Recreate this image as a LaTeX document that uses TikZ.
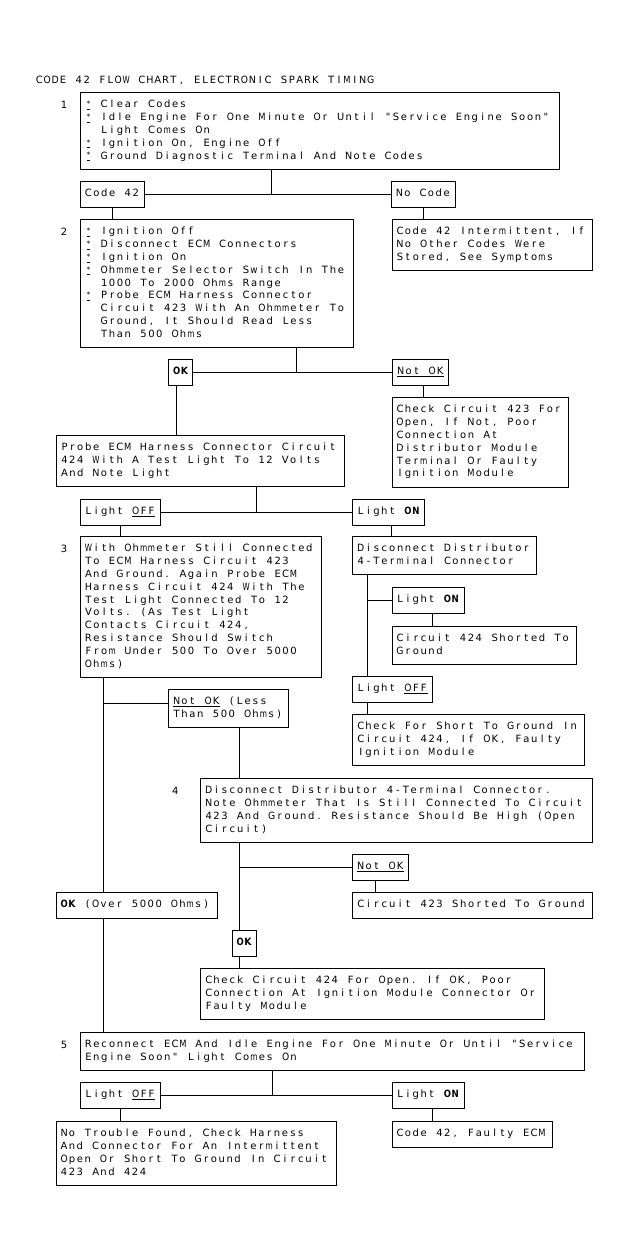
\documentclass[tikz,border=0pt]{standalone}
\usepackage{graphicx}
\usepackage{fontspec}
\setmonofont{DejaVu Sans}
\newlength\cw \setlength\cw{7.887pt}
\newcommand\bul{\makebox[\cw][c]{\underline{\raisebox{1.2pt}{\fontsize{7.5}{7.5}\selectfont *}}}\hspace*{\cw}}
\newcommand\ind{\hspace*{2\cw}}
\ExplSyntaxOn
\tl_new:N \l_mono_tl
\tl_new:N \l_mono_out_tl
\box_new:N \l_mono_box
\cs_new_protected:Npn \mono_glyph:n #1
  {
    \hbox_set:Nn \l_mono_box {#1}
    \dim_compare:nNnTF { \box_wd:N \l_mono_box } > { 7.2pt }
      { \makebox[\cw][c]{\resizebox{7.2pt}{\height}{#1}} }
      { \makebox[\cw][c]{#1} }
  }
\cs_new_protected:Npn \mono_item:n #1
  {
    \tl_if_single_token:nTF {#1}
      {
        \token_if_cs:NTF #1
          { \tl_put_right:Nn \l_mono_out_tl {#1} }
          { \tl_put_right:Nn \l_mono_out_tl { \mono_glyph:n {#1} } }
      }
      { \tl_put_right:Nn \l_mono_out_tl { { \tx {#1} } } }
  }
\NewDocumentCommand \tx { m }
  {
    \tl_set:Nn \l_mono_tl {#1}
    \tl_replace_all:Nnn \l_mono_tl { \\ ~ } { \\ }
    \tl_replace_all:Nnn \l_mono_tl { ~ } { \kern \cw }
    \tl_clear:N \l_mono_out_tl
    \tl_map_inline:Nn \l_mono_tl { \mono_item:n {##1} }
    \tl_use:N \l_mono_out_tl
  }
\ExplSyntaxOff
\begin{document}
\begin{tikzpicture}[x=1pt,y=-1pt,
  txt/.style={font=\ttfamily\fontsize{10}{12.8}\selectfont},
  box/.style={txt,draw,line width=1pt,anchor=north west,align=left,inner xsep=4pt,inner ysep=6.4pt,
    execute at begin node=\strut,execute at end node=\strut},
  lab/.style={txt,inner sep=0pt},
  every path/.style={line width=1pt}]
\fill[white] (0,0) rectangle (631,1260);
\useasboundingbox (0,0) rectangle (631,1260);

\node[txt,anchor=west,inner sep=0pt] (title) at (35,80) {\tx{CODE 42 FLOW CHART, ELECTRONIC SPARK TIMING}};

% step 1
\node[lab] (n1) at (64,104.5) {\tx{1}};
\node[box,text width=471pt] (b1) at (80,92) {\tx{\bul Clear Codes\\\bul Idle Engine For One Minute Or Until "Service Engine Soon"\\\ind Light Comes On\\\bul Ignition On, Engine Off\\\bul Ground Diagnostic Terminal And Note Codes}};
\node[box,text width=56pt] (c42) at (80,181) {\tx{Code 42}};
\node[box,text width=56pt] (nc) at (391,181) {\tx{No Code}};

% step 2
\node[lab] (n2) at (64,231.5) {\tx{2}};
\node[box,text width=265pt] (b2) at (80,219) {\tx{\bul Ignition Off\\\bul Disconnect ECM Connectors\\\bul Ignition On\\\bul Ohmmeter Selector Switch In The\\\ind 1000 To 2000 Ohms Range\\\bul Probe ECM Harness Connector\\\ind Circuit 423 With An Ohmmeter To\\\ind Ground, It Should Read Less\\\ind Than 500 Ohms}};
\node[box,text width=192.5pt] (ci) at (391.6,219) {\tx{Code 42 Intermittent, If\\No Other Codes Were\\Stored, See Symptoms}};

\node[box,text width=16pt] (ok1) at (168.2,359) {\tx{\textbf{OK}}};
\node[box,text width=48pt] (nok1) at (392.3,359) {\tx{\underline{Not OK}}};
\node[box,text width=168.3pt] (chk423) at (391.6,397) {\tx{Check Circuit 423 For\\Open, If Not, Poor\\Connection At\\Distributor Module\\Terminal Or Faulty\\Ignition Module}};
\node[box,text width=280pt] (probe) at (56.1,435) {\tx{Probe ECM Harness Connector Circuit\\424 With A Test Light To 12 Volts\\And Note Light}};

\node[box,text width=72.3pt] (loff1) at (80,499) {\tx{Light \underline{OFF}}};
\node[box,text width=64pt] (lon1) at (352.3,499) {\tx{Light \textbf{ON}}};

% step 3
\node[lab] (n3) at (64,548.5) {\tx{3}};
\node[box,text width=233pt] (b3) at (80,536) {\tx{With Ohmmeter Still Connected\\To ECM Harness Circuit 423\\And Ground. Again Probe ECM\\Harness Circuit 424 With The\\Test Light Connected To 12\\Volts. (As Test Light\\Contacts Circuit 424,\\Resistance Should Switch\\From Under 500 To Over 5000\\Ohms)}};
\node[box,text width=176pt] (dis) at (352.3,536) {\tx{Disconnect Distributor\\4-Terminal Connector}};
\node[box,text width=64.8pt] (lon2) at (391.6,587) {\tx{Light \textbf{ON}}};
\node[box,text width=176.4pt] (s424) at (391.6,626) {\tx{Circuit 424 Shorted To\\Ground}};
\node[box,text width=72pt] (loff2) at (352.3,676) {\tx{Light \underline{OFF}}};
\node[box,text width=223.6pt] (chkS) at (352.3,714) {\tx{Check For Short To Ground In\\Circuit 424, If OK, Faulty\\Ignition Module}};
\node[box,text width=112pt] (nokL) at (168.2,689) {\tx{\underline{Not OK} (Less\\Than 500 Ohms)}};

% step 4
\node[lab] (n4) at (175.3,790.5) {\tx{4}};
\node[box,text width=384pt] (b4) at (200.3,778) {\tx{Disconnect Distributor 4-Terminal Connector.\\Note Ohmmeter That Is Still Connected To Circuit\\423 And Ground. Resistance Should Be High (Open\\Circuit)}};
\node[box,text width=48pt] (nok3) at (352.3,854) {\tx{\underline{Not OK}}};
\node[box,text width=231.8pt] (s423) at (352.3,892) {\tx{Circuit 423 Shorted To Ground}};
\node[box,text width=153pt] (okover) at (55.7,892) {\tx{\textbf{OK} (Over 5000 Ohms)}};
\node[box,text width=16.2pt] (ok2) at (231.7,930) {\tx{\textbf{OK}}};
\node[box,text width=335.7pt] (chk424) at (200.3,968) {\tx{Check Circuit 424 For Open. If OK, Poor\\Connection At Ignition Module Connector Or\\Faulty Module}};

% step 5
\node[lab] (n5) at (64,1045) {\tx{5}};
\node[box,text width=496pt] (b5) at (80,1032) {\tx{Reconnect ECM And Idle Engine For One Minute Or Until "Service\\Engine Soon" Light Comes On}};
\node[box,text width=72.3pt] (loff3) at (80,1082) {\tx{Light \underline{OFF}}};
\node[box,text width=64.8pt] (lon3) at (391.6,1082) {\tx{Light \textbf{ON}}};
\node[box,text width=272.5pt] (nt) at (55.7,1121) {\tx{No Trouble Found, Check Harness\\And Connector For An Intermittent\\Open Or Short To Ground In Circuit\\423 And 424}};
\node[box,text width=152.6pt] (cf) at (391.6,1121) {\tx{Code 42, Faulty ECM}};

% connectors
\coordinate (j1) at (271,0);
\coordinate (j2) at (296,0);
\coordinate (j3) at (256,0);
\coordinate (j5) at (272,0);
\coordinate (d1) at (112.8,0);
\coordinate (d2) at (423.7,0);
\coordinate (d3) at (176.4,0);
\coordinate (d4) at (120,0);
\coordinate (d5) at (391.6,0);
\coordinate (d6) at (432.2,0);
\coordinate (d7) at (239.9,0);
\coordinate (d8) at (375.5,0);
\coordinate (xr) at (367.3,0);
\coordinate (xl) at (103.9,0);
\coordinate (hb) at (0,703);

\draw (b1.south -| j1) -- (c42.east -| j1);
\draw (c42.east) -- (nc.west);
\draw (c42.south -| d1) -- (b2.north -| d1);
\draw (nc.south -| d2) -- (ci.north -| d2);

\draw (b2.south -| j2) -- (ok1.east -| j2);
\draw (ok1.east) -- (nok1.west);
\draw (ok1.south -| d3) -- (probe.north -| d3);
\draw (nok1.south -| d2) -- (chk423.north -| d2);

\draw (probe.south -| j3) -- (loff1.east -| j3);
\draw (loff1.east) -- (lon1.west);
\draw (loff1.south -| d4) -- (b3.north -| d4);
\draw (lon1.south -| d5) -- (dis.north -| d5);

\draw (dis.south -| xr) -- (loff2.north -| xr);
\draw (lon2.west -| xr) -- (lon2.west);
\draw (lon2.south -| d6) -- (s424.north -| d6);
\draw (loff2.south -| xr) -- (chkS.north -| xr);

\draw (b3.south -| xl) -- (okover.north -| xl);
\draw (okover.south -| xl) -- (b5.north -| xl);
\draw (hb -| xl) -- (hb -| nokL.west);
\draw (nokL.south -| d7) -- (b4.north -| d7);
\draw (b4.south -| d7) -- (ok2.north -| d7);
\draw (nok3.west -| d7) -- (nok3.west);
\draw (nok3.south -| d8) -- (s423.north -| d8);
\draw (ok2.south -| d7) -- (chk424.north -| d7);

\draw (b5.south -| j5) -- (loff3.east -| j5);
\draw (loff3.east) -- (lon3.west);
\draw (loff3.south -| d4) -- (nt.north -| d4);
\draw (lon3.south -| d6) -- (cf.north -| d6);
\end{tikzpicture}
\end{document}
